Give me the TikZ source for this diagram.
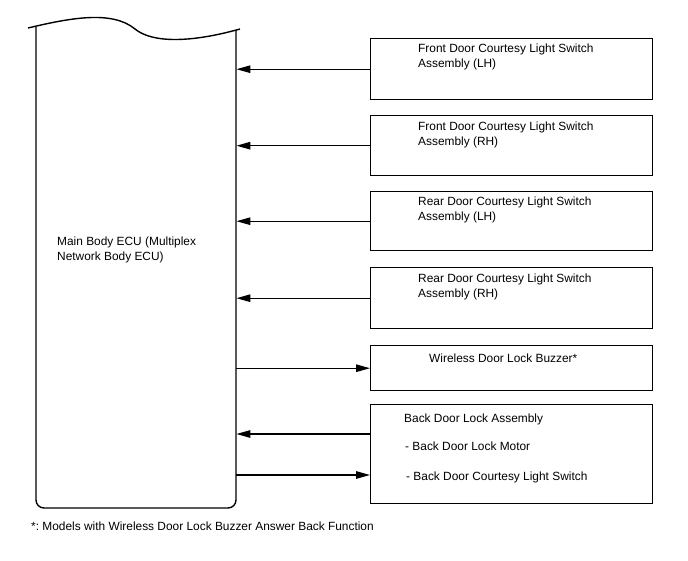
\documentclass[tikz,border=0pt]{standalone}
\usepackage{fontspec}
\setmainfont{Liberation Sans}
\usetikzlibrary{arrows.meta,calc}
\begin{document}
\frenchspacing
\begin{tikzpicture}[x=1pt,y=-1pt,
  box/.style={draw,line width=1.4pt,rectangle,anchor=north west,inner sep=0pt},
  arr/.style={line width=1.3pt,-{Triangle[length=14pt,width=7.5pt]}},
  txt/.style={anchor=base west,inner sep=0pt,font=\fontsize{11.9}{14.5}\selectfont,align=left}]
\useasboundingbox (0,0) rectangle (688,560);
% ECU
\node[inner sep=0pt,minimum width=200,minimum height=480,anchor=north west] (ecu) at (36,28) {};
\draw[line width=1.4pt] (28,28) .. controls (70,18) and (112,10) .. (135,29)
  .. controls (152,43) and (190,43) .. (240,29);
\draw[line width=1.4pt,rounded corners=8pt] (36,27) -- (36,508) -- (236,508) -- (236,30);
\node[txt] (ecut) at (57,260) {Main Body ECU (Multiplex\\Network Body ECU)};
% boxes
\node[box,minimum width=282,minimum height=61] (b1) at (370,38) {};
\node[box,minimum width=282,minimum height=60] (b2) at (370,115) {};
\node[box,minimum width=282,minimum height=59] (b3) at (370,191) {};
\node[box,minimum width=282,minimum height=61] (b4) at (370,267) {};
\node[box,minimum width=282,minimum height=45] (b5) at (370,345) {};
\node[box,minimum width=282,minimum height=99] (b6) at (370,404) {};
\node[txt] (t1) at (418,67) {Front Door Courtesy Light Switch\\Assembly (LH)};
\node[txt] (t2) at (418,145) {Front Door Courtesy Light Switch\\Assembly (RH)};
\node[txt] (t3) at (418,220) {Rear Door Courtesy Light Switch\\Assembly (LH)};
\node[txt] (t4) at (418,297) {Rear Door Courtesy Light Switch\\Assembly (RH)};
\node[txt] (t5) at (429,362) {Wireless Door Lock Buzzer*};
\node[txt] (t6a) at (404,422) {Back Door Lock Assembly};
\node[txt] (t6b) at (405,450) {- Back Door Lock Motor};
\node[txt] (t6c) at (406,480) {- Back Door Courtesy Light Switch};
\node[txt] (foot) at (31,530) {*: Models with Wireless Door Lock Buzzer Answer Back Function};
% connectors
\draw[arr] (b1.west) -- (b1.west -| ecu.east);
\draw[arr] (b2.west) -- (b2.west -| ecu.east);
\draw[arr] (b3.west) -- (b3.west -| ecu.east);
\draw[arr] (b4.west) -- (b4.west -| ecu.east);
\draw[arr] (b5.west -| ecu.east) -- (b5.west);
\coordinate (p1) at ($(b6.north west)+(0,30)$);
\coordinate (p2) at ($(b6.north west)+(0,71)$);
\draw[arr] (p1) -- (p1 -| ecu.east);
\draw[arr] (p2 -| ecu.east) -- (p2);
\end{tikzpicture}
\end{document}
